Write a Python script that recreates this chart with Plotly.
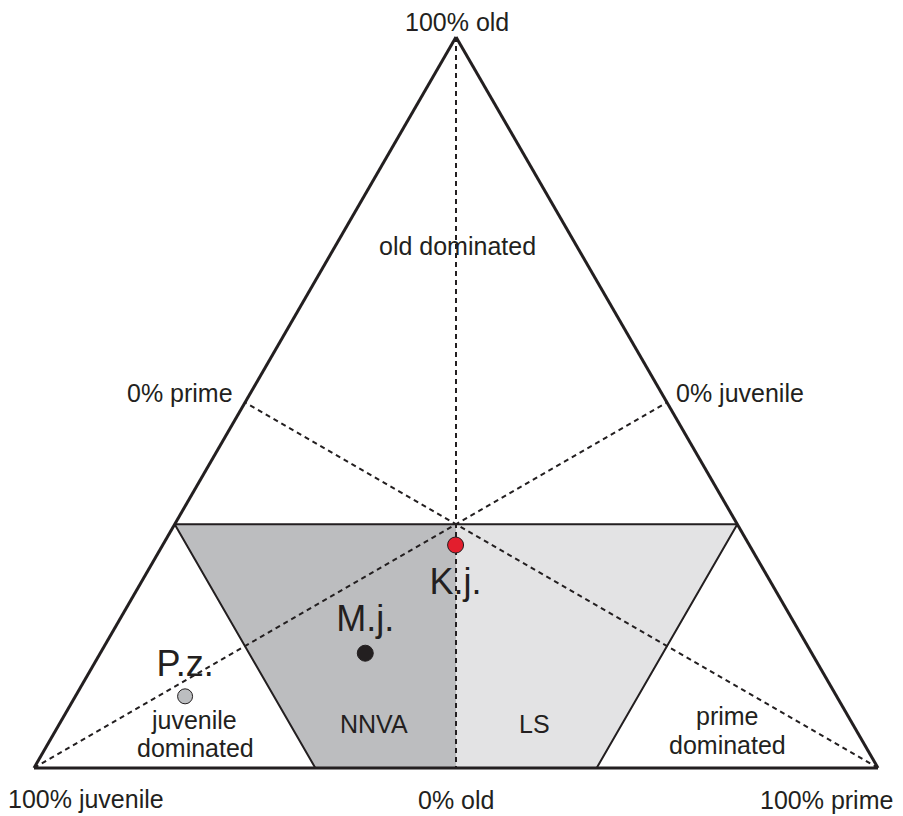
import plotly.graph_objects as go

# age-class composition of each sample (shares of old / juvenile / prime)
species = ["K.j.", "M.j.", "P.z."]
old = [0.305, 0.157, 0.098]
juvenile = [0.348, 0.529, 0.772]
prime = [0.347, 0.314, 0.130]
point_colors = ["#e31e2d", "#231f20", "#bcbec0"]

# category boundaries used for the shaded zones
OLD_CUT = 1 / 3
DOM_CUT = 2 / 3
MID = (1 - OLD_CUT) / 2

TEXT = "#231f20"
FONT = "Arial, 'Liberation Sans', sans-serif"
# page body has an 8px margin, so the figure is a bit smaller than the window
OFF = 8
W, H = 903 - OFF, 816 - OFF


def px(x, y):
    # window pixel position -> paper coordinates
    return (x - OFF) / W, 1 - (y - OFF) / H


fig = go.Figure()

# NNVA zone (dark grey)
fig.add_trace(go.Scatterternary(
    a=[OLD_CUT, OLD_CUT, 0, 0],
    b=[DOM_CUT, MID, 0.5, DOM_CUT],
    c=[1 - OLD_CUT - DOM_CUT, MID, 0.5, 1 - DOM_CUT],
    mode='lines', fill='toself', fillcolor='#bcbdbf',
    line=dict(width=0), hoverinfo='skip', showlegend=False
))

# LS zone (light grey)
fig.add_trace(go.Scatterternary(
    a=[OLD_CUT, OLD_CUT, 0, 0],
    b=[MID, 1 - OLD_CUT - DOM_CUT, 1 - DOM_CUT, 0.5],
    c=[MID, DOM_CUT, DOM_CUT, 0.5],
    mode='lines', fill='toself', fillcolor='#e3e3e4',
    line=dict(width=0), hoverinfo='skip', showlegend=False
))

# medians (dashed)
medians = [
    ([1, 0], [0, 0.5], [0, 0.5]),
    ([0, 0.5], [1, 0], [0, 0.5]),
    ([0, 0.5], [0, 0.5], [1, 0]),
]
for ma, mb, mc in medians:
    fig.add_trace(go.Scatterternary(
        a=ma, b=mb, c=mc, mode='lines',
        line=dict(color=TEXT, width=2, dash='5px,4px'),
        hoverinfo='skip', showlegend=False
    ))

# outline of the non-dominated zone
fig.add_trace(go.Scatterternary(
    a=[0, OLD_CUT, OLD_CUT, 0],
    b=[DOM_CUT, DOM_CUT, 0, 1 - DOM_CUT],
    c=[1 - DOM_CUT, 0, DOM_CUT, DOM_CUT],
    mode='lines', line=dict(color=TEXT, width=2),
    hoverinfo='skip', showlegend=False
))

# samples
fig.add_trace(go.Scatterternary(
    a=old, b=juvenile, c=prime, mode='markers',
    marker=dict(size=[16, 16, 15], color=point_colors, opacity=1,
                line=dict(color=TEXT, width=1)),
    text=species, hoverinfo='text', showlegend=False
))

# sample labels (invisible markers set the text offset)
fig.add_trace(go.Scatterternary(
    a=old, b=juvenile, c=prime, mode='markers+text',
    text=species,
    textposition=['bottom center', 'top center', 'top center'],
    textfont=dict(family=FONT, size=36, color=TEXT),
    marker=dict(size=[34, 20, 16], opacity=0),
    hoverinfo='skip', showlegend=False, cliponaxis=False
))

axis = dict(showline=True, linecolor=TEXT, linewidth=3, showgrid=False,
            showticklabels=False, ticks='', title=dict(text=''), min=0,
            layer='above traces')

labels = [
    ("100% old", 457, 22),
    ("100% juvenile", 86, 799),
    ("0% old", 456, 800),
    ("100% prime", 826, 800),
    ("0% prime", 180, 393),
    ("0% juvenile", 740, 393),
    ("old dominated", 457, 246),
    ("juvenile", 194, 720),
    ("dominated", 195, 748),
    ("prime", 727, 716),
    ("dominated", 727, 745),
    ("NNVA", 374, 724),
    ("LS", 534, 724),
]
annotations = []
for txt, x, y in labels:
    ax, ay = px(x, y)
    annotations.append(dict(
        text=txt, x=ax, y=ay, xref='paper', yref='paper',
        xanchor='center', yanchor='middle', showarrow=False,
        font=dict(family=FONT, size=25, color=TEXT)
    ))

# triangle: window x 34..878, bottom at y 768
tri_x0, tri_x1 = px(34, 0)[0], px(878, 0)[0]
tri_yc = px(0, 402.5)[1]

fig.update_layout(
    width=W, height=H,
    margin=dict(l=0, r=0, t=0, b=0),
    paper_bgcolor='white',
    showlegend=False,
    ternary=dict(
        sum=1,
        domain=dict(x=[tri_x0, tri_x1], y=[tri_yc - 0.465, tri_yc + 0.465]),
        bgcolor='rgba(0,0,0,0)',
        aaxis=axis, baxis=axis, caxis=axis,
    ),
    annotations=annotations,
)

fig.write_html("out.html")
